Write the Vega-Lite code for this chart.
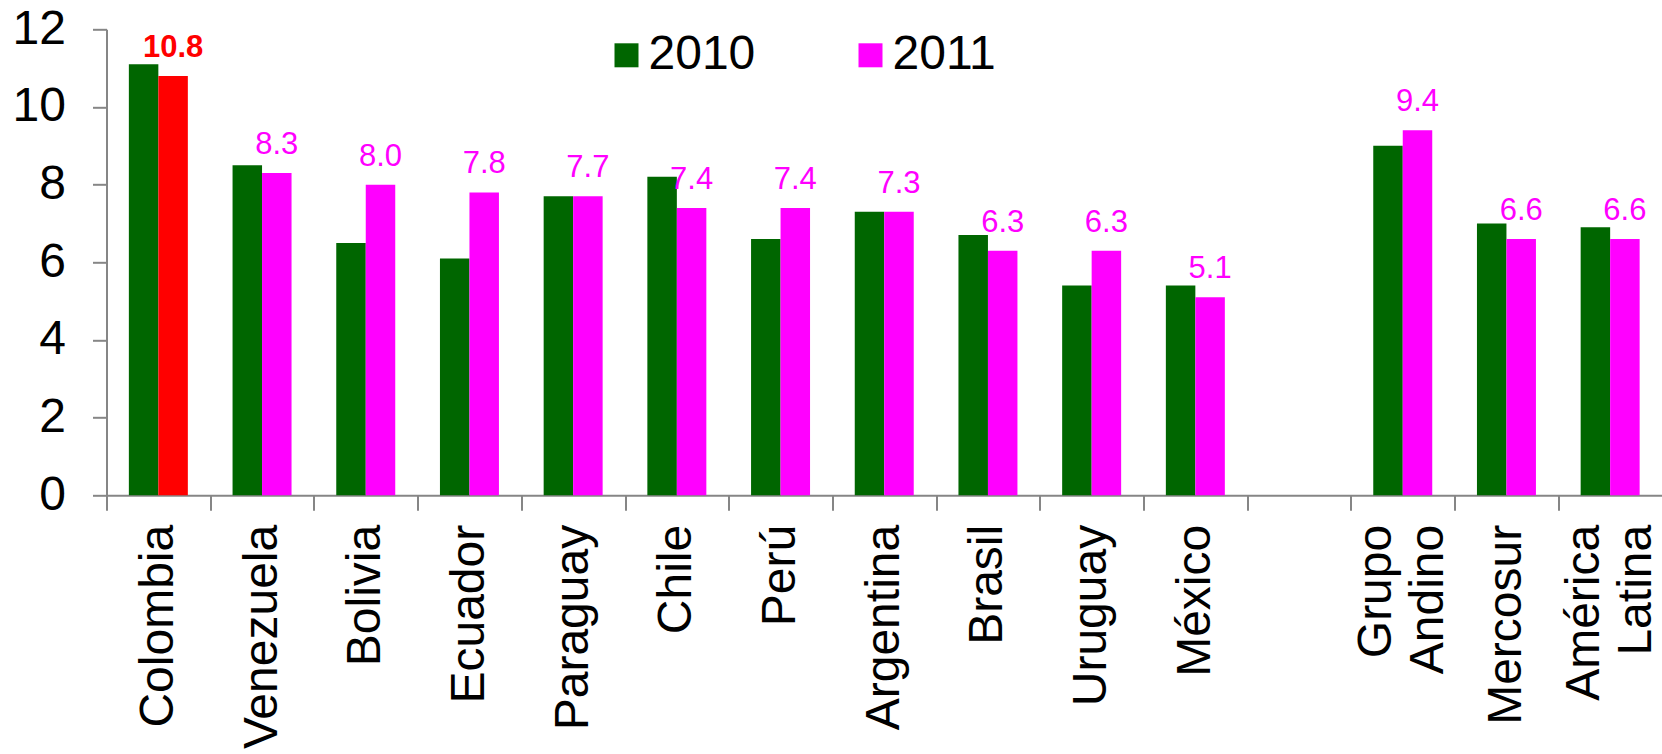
{
  "$schema": "https://vega.github.io/schema/vega-lite/v6.json",
  "width": 1555.5,
  "height": 466,
  "autosize": {"type": "none"},
  "padding": {"left": 106.5, "top": 29.3, "right": 0, "bottom": 258.7},
  "config": {"view": {"stroke": null}, "font": "Liberation Sans"},
  "data": {
    "values": [
      {"country": "Colombia", "year": "2010", "value": 11.1},
      {"country": "Colombia", "year": "2011", "value": 10.8},
      {"country": "Venezuela", "year": "2010", "value": 8.5},
      {"country": "Venezuela", "year": "2011", "value": 8.3},
      {"country": "Bolivia", "year": "2010", "value": 6.5},
      {"country": "Bolivia", "year": "2011", "value": 8.0},
      {"country": "Ecuador", "year": "2010", "value": 6.1},
      {"country": "Ecuador", "year": "2011", "value": 7.8},
      {"country": "Paraguay", "year": "2010", "value": 7.7},
      {"country": "Paraguay", "year": "2011", "value": 7.7},
      {"country": "Chile", "year": "2010", "value": 8.2},
      {"country": "Chile", "year": "2011", "value": 7.4},
      {"country": "Perú", "year": "2010", "value": 6.6},
      {"country": "Perú", "year": "2011", "value": 7.4},
      {"country": "Argentina", "year": "2010", "value": 7.3},
      {"country": "Argentina", "year": "2011", "value": 7.3},
      {"country": "Brasil", "year": "2010", "value": 6.7},
      {"country": "Brasil", "year": "2011", "value": 6.3},
      {"country": "Uruguay", "year": "2010", "value": 5.4},
      {"country": "Uruguay", "year": "2011", "value": 6.3},
      {"country": "México", "year": "2010", "value": 5.4},
      {"country": "México", "year": "2011", "value": 5.1},
      {"country": "Grupo Andino", "year": "2010", "value": 9.0},
      {"country": "Grupo Andino", "year": "2011", "value": 9.4},
      {"country": "Mercosur", "year": "2010", "value": 7.0},
      {"country": "Mercosur", "year": "2011", "value": 6.6},
      {"country": "América Latina", "year": "2010", "value": 6.9},
      {"country": "América Latina", "year": "2011", "value": 6.6}
    ]
  },
  "encoding": {
    "x": {
      "field": "country",
      "type": "nominal",
      "sort": null,
      "scale": {
        "domain": ["Colombia", "Venezuela", "Bolivia", "Ecuador", "Paraguay", "Chile", "Perú", "Argentina", "Brasil", "Uruguay", "México", " ", "Grupo Andino", "Mercosur", "América Latina"],
        "paddingInner": 0,
        "paddingOuter": 0
      },
      "axis": {
        "title": null,
        "labelAngle": -90,
        "labelAlign": "right",
        "labelBaseline": "middle",
        "labelFontSize": 48,
        "labelColor": "#000000",
        "labelPadding": 14,
        "labelLimit": 0,
        "labelLineHeight": 52,
        "labelOffset": {"condition": {"test": "datum.value === 'Grupo Andino' || datum.value === 'América Latina'", "value": -26}, "value": 0},
        "labelExpr": "datum.value === 'Grupo Andino' ? ['Grupo', 'Andino'] : datum.value === 'América Latina' ? ['América', 'Latina'] : datum.label",
        "tickBand": "extent",
        "tickSize": 15,
        "tickWidth": 2,
        "tickColor": "#868686",
        "domainColor": "#868686",
        "domainWidth": 2,
        "grid": false
      }
    },
    "xOffset": {
      "field": "year",
      "type": "nominal",
      "scale": {"paddingInner": 0, "paddingOuter": 0.758}
    },
    "y": {
      "field": "value",
      "type": "quantitative",
      "scale": {"domain": [0, 12], "nice": false},
      "axis": {
        "title": null,
        "values": [0, 2, 4, 6, 8, 10, 12],
        "grid": false,
        "labelFontSize": 48,
        "labelColor": "#000000",
        "labelPadding": 27,
        "tickSize": 14,
        "tickWidth": 2,
        "tickColor": "#868686",
        "domainColor": "#868686",
        "domainWidth": 2
      }
    }
  },
  "layer": [
    {
      "mark": {"type": "bar"},
      "encoding": {
        "color": {
          "condition": {"test": "datum.country === 'Colombia' && datum.year === '2011'", "value": "#FF0000"},
          "field": "year",
          "type": "nominal",
          "scale": {"domain": ["2010", "2011"], "range": ["#006600", "#FF00FF"]},
          "legend": {
            "orient": "none",
            "legendX": 496,
            "legendY": 2,
            "direction": "horizontal",
            "title": null,
            "symbolType": "square",
            "symbolSize": 576,
            "symbolStrokeWidth": 0,
            "labelFontSize": 48,
            "labelColor": "#000000",
            "labelOffset": -2,
            "columnPadding": 91,
            "padding": 0
          }
        }
      }
    },
    {
      "transform": [{"filter": "datum.year === '2011' && datum.country !== 'Colombia'"}],
      "mark": {"type": "text", "baseline": "alphabetic", "dy": -19, "fontSize": 31, "color": "#FF00FF"},
      "encoding": {"text": {"field": "value", "type": "quantitative", "format": ".1f"}}
    },
    {
      "transform": [{"filter": "datum.year === '2011' && datum.country === 'Colombia'"}],
      "mark": {"type": "text", "baseline": "alphabetic", "dy": -19, "fontSize": 31, "fontWeight": "bold", "color": "#FF0000"},
      "encoding": {"text": {"field": "value", "type": "quantitative", "format": ".1f"}}
    }
  ]
}
